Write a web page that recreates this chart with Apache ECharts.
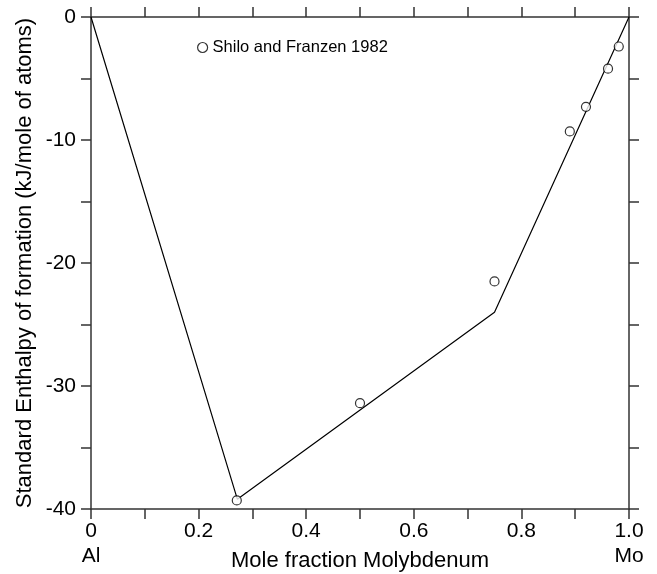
<!DOCTYPE html>
<html>
<head>
<meta charset="utf-8">
<script src="https://cdn.jsdelivr.net/npm/echarts@6/dist/echarts.min.js"></script>
<style>html,body{margin:0;padding:0;background:#fff}#c{width:657px;height:574px}</style>
</head>
<body>
<div id="c"></div>
<script>
// Model line (calculated enthalpy of formation)
const lineX = [0, 0.272, 0.75, 1.0];
const lineY = [0, -39.2, -24.0, 0];
// Shilo and Franzen 1982 experimental points
const expX = [0.271, 0.500, 0.750, 0.890, 0.920, 0.961, 0.981];
const expY = [-39.3, -31.4, -21.5, -9.3, -7.3, -4.2, -2.4];
const xTickLabels = {0: '0\nAl', 0.2: '0.2', 0.4: '0.4', 0.6: '0.6', 0.8: '0.8', 1: '1.0\nMo'};
const yTickLabels = [0, -10, -20, -30, -40];

const FONT = 'Liberation Sans, Arial, Helvetica, sans-serif';
const axisColor = '#333';
const chart = echarts.init(document.getElementById('c'));

function xAxisBase(pos, showLabel) {
  return {
    type: 'value', position: pos, min: 0, max: 1, interval: 0.2,
    axisLine: {show: true, onZero: false, lineStyle: {color: axisColor, width: 1.5}},
    axisTick: {show: true, inside: false, length: 10, lineStyle: {color: axisColor, width: 1.5}},
    minorTick: {show: true, splitNumber: 2, length: 10, lineStyle: {color: axisColor, width: 1.5}},
    splitLine: {show: false},
    axisLabel: {show: showLabel, color: '#000', fontFamily: FONT, fontSize: 21, lineHeight: 25, margin: 10,
      formatter: v => { const k = Math.round(v * 10) / 10; return xTickLabels[k] !== undefined ? xTickLabels[k] : ''; }}
  };
}
function yAxisBase(pos, showLabel) {
  return {
    type: 'value', position: pos, min: -40, max: 0, interval: 10,
    axisLine: {show: true, onZero: false, lineStyle: {color: axisColor, width: 1.5}},
    axisTick: {show: true, inside: false, length: 10, lineStyle: {color: axisColor, width: 1.5}},
    minorTick: {show: true, splitNumber: 2, length: 10, lineStyle: {color: axisColor, width: 1.5}},
    splitLine: {show: false},
    axisLabel: {show: showLabel, color: '#000', fontFamily: FONT, fontSize: 21, margin: 15,
      formatter: v => yTickLabels.includes(v) ? String(v) : ''}
  };
}

const xb = xAxisBase('bottom', true);
xb.name = 'Mole fraction Molybdenum';
xb.nameLocation = 'middle';
xb.nameGap = 41;
xb.nameMoveOverlap = false;
xb.nameTextStyle = {color: '#000', fontFamily: FONT, fontSize: 22};
const yl = yAxisBase('left', true);
yl.name = 'Standard Enthalpy of formation (kJ/mole of atoms)';
yl.nameLocation = 'middle';
yl.nameGap = 55;
yl.nameMoveOverlap = false;
yl.nameTextStyle = {color: '#000', fontFamily: FONT, fontSize: 22};

chart.setOption({
  backgroundColor: '#fff',
  animation: false,
  grid: {left: 91, right: 28, top: 17, bottom: 65, containLabel: false, outerBoundsMode: 'none'},
  legend: {
    left: 192, top: 34, itemWidth: 10, itemHeight: 10, itemGap: 5,
    data: ['Shilo and Franzen 1982'],
    itemStyle: {color: '#fff', borderColor: '#000', borderWidth: 1.2},
    textStyle: {color: '#000', fontFamily: FONT, fontSize: 16.5}
  },
  xAxis: [xb, xAxisBase('top', false)],
  yAxis: [yl, yAxisBase('right', false)],
  series: [
    {type: 'line', name: 'model', xAxisIndex: 0, yAxisIndex: 0, showSymbol: false, symbol: 'none',
     lineStyle: {color: '#000', width: 1.2}, data: lineX.map((x, i) => [x, lineY[i]]), z: 2},
    {type: 'scatter', name: 'Shilo and Franzen 1982', xAxisIndex: 0, yAxisIndex: 0,
     symbol: 'circle', symbolSize: 9,
     itemStyle: {color: '#fff', borderColor: '#000', borderWidth: 1.2},
     data: expX.map((x, i) => [x, expY[i]]), z: 3}
  ]
});
</script>
</body>
</html>
